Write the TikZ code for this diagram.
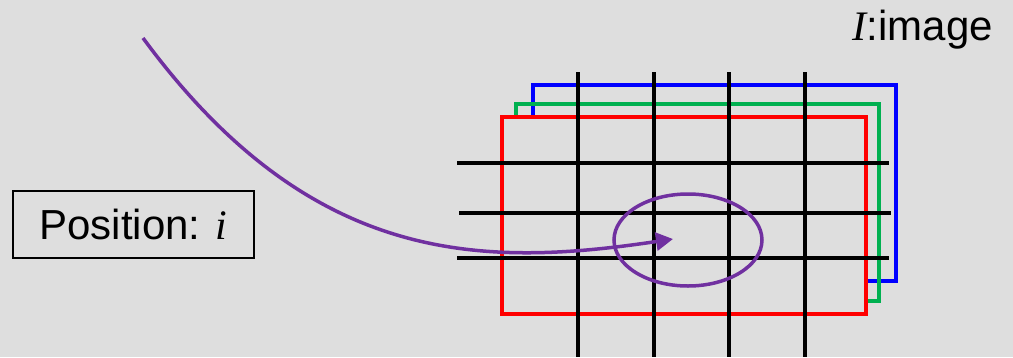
\documentclass[tikz,border=0pt]{standalone}
\usepackage{fontspec}
\setmainfont{Liberation Sans}
\newfontfamily\varfont{Liberation Serif}
\usetikzlibrary{arrows.meta,shapes.geometric}
\definecolor{ImgBg}{HTML}{DEDEDE}
\definecolor{ImgRed}{HTML}{FF0000}
\definecolor{ImgGreen}{HTML}{00B050}
\definecolor{ImgBlue}{HTML}{0000FF}
\definecolor{ImgPurple}{HTML}{7030A0}
\newcommand\var[1]{{\varfont\itshape #1}}

\begin{document}
\begin{tikzpicture}[
  x=1pt,y=-1pt,
  channel/.style={line width=3.5pt},
  gridline/.style={draw=black,line width=3.5pt},
  pick/.style={draw=ImgPurple,line width=3.5pt},
  labeltext/.style={font=\fontsize{42}{50}\selectfont,inner sep=0pt},
  posbox/.style={draw=black,line width=1.8pt,minimum width=241pt,minimum height=67pt,
                 inner sep=0pt,font=\fontsize{42}{50}\selectfont}
]
\useasboundingbox[fill=ImgBg] (0,0) rectangle (1013,357);
% colour planes of the image
\draw[channel,ImgBlue] (533,85) rectangle (896,281);
\draw[channel,ImgGreen] (516,104) rectangle (879,301);
\draw[channel,ImgRed,fill=ImgBg] (502,117) rectangle (866,314);
% pixel grid
\foreach \x in {578,654,729,805}{\draw[gridline] (\x,72) -- (\x,357);}
\foreach \y/\a/\b in {163/457/889,213/459/891,258/457/889}{\draw[gridline] (\a,\y) -- (\b,\y);}
% labels
\node[labeltext,anchor=base east] (imglabel) at (993,40) {\var{I}:image};
\node[posbox] (pos) at (133.5,224.5) {Position: \var{i}};
% neighbourhood and arrow
\node[pick,ellipse,minimum width=148pt,minimum height=92pt,inner sep=0pt] (region) at (688,240) {};
\coordinate (src) at (143,38);
\coordinate (tip) at (673,239);
\draw[pick,-{Triangle[length=17pt,width=18pt]}] (src) .. controls (310,265) and (480,268) .. (tip);
\end{tikzpicture}
\end{document}
